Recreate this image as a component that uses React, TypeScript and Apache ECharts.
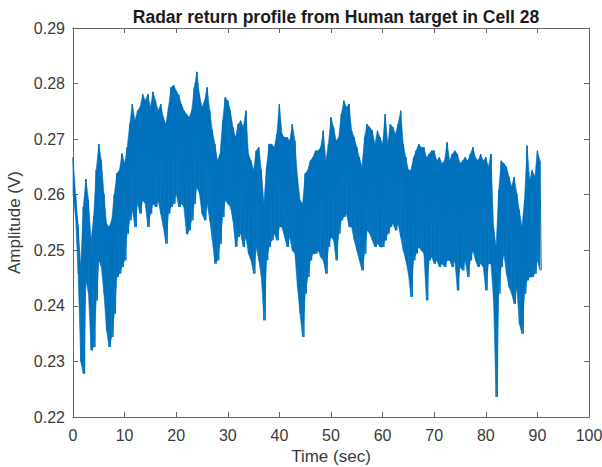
import React, { useEffect, useRef } from "react";
import * as echarts from "echarts";

const TITLE = "Radar return profile from Human target in Cell 28";
const X_NAME = "Time (sec)";
const Y_NAME = "Amplitude (V)";
const X_MIN = 0;
const X_MAX = 100;
const X_STEP = 10;
const Y_MIN = 0.22;
const Y_MAX = 0.29;
const Y_STEP = 0.01;
// sampling step (sec) of the envelope
const SAMPLE_STEP = 0.5;

// upper envelope of the signal, one value per 0.5 s starting at t = 0
const upper = [
  0.2667, 0.26, 0.2542, 0.247, 0.2578, 0.2628, 0.259, 0.2518, 0.256, 0.2644,
  0.2691, 0.2661, 0.2601, 0.2548, 0.2542, 0.2554, 0.26, 0.2638, 0.2644, 0.2674,
  0.2656, 0.2685, 0.2727, 0.2763, 0.2733, 0.2751, 0.2757, 0.2781, 0.2769, 0.2781,
  0.2757, 0.2785, 0.2769, 0.2751, 0.2763, 0.2739, 0.2727, 0.2757, 0.2793, 0.2797,
  0.2787, 0.2779, 0.2763, 0.2751, 0.2745, 0.2739, 0.2751, 0.2793, 0.2821, 0.2781,
  0.2757, 0.2769, 0.2793, 0.2751, 0.2715, 0.2691, 0.2661, 0.2673, 0.2733, 0.2775,
  0.2769, 0.2751, 0.2721, 0.2703, 0.2727, 0.2733, 0.2721, 0.2751, 0.2673, 0.2661,
  0.2644, 0.2679, 0.2685, 0.2644, 0.2584, 0.265, 0.2691, 0.2691, 0.2685, 0.2709,
  0.2763, 0.2709, 0.2703, 0.2703, 0.2697, 0.2727, 0.2697, 0.2632, 0.259, 0.2584,
  0.2638, 0.2644, 0.2661, 0.2667, 0.2679, 0.2679, 0.2685, 0.2715, 0.2661, 0.2691,
  0.2739, 0.2721, 0.2697, 0.2703, 0.2745, 0.2769, 0.2757, 0.2763, 0.2715, 0.2703,
  0.2685, 0.2667, 0.265, 0.2703, 0.2727, 0.2721, 0.2715, 0.2691, 0.2715, 0.2703,
  0.2691, 0.2745, 0.2691, 0.2727, 0.2721, 0.2709, 0.2727, 0.2751, 0.2691, 0.2667,
  0.2644, 0.2644, 0.2667, 0.2679, 0.2691, 0.2685, 0.2685, 0.2667, 0.2673, 0.2679,
  0.2679, 0.2661, 0.2667, 0.2656, 0.2661, 0.2694, 0.2661, 0.2673, 0.2679, 0.2673,
  0.2656, 0.2661, 0.2667, 0.2661, 0.2673, 0.2685, 0.2667, 0.2661, 0.2673, 0.2661,
  0.2667, 0.265, 0.2673, 0.2542, 0.2506, 0.2608, 0.2661, 0.2656, 0.265, 0.2632,
  0.2614, 0.2632, 0.2602, 0.2572, 0.2542, 0.259, 0.2688, 0.2626, 0.2644, 0.2632,
  0.2679, 0.2661,
];

// lower envelope of the signal, one value per 0.5 s starting at t = 0
const lower = [
  0.26, 0.256, 0.2458, 0.23, 0.2278, 0.2446, 0.2422, 0.232, 0.2326, 0.241,
  0.2482, 0.247, 0.2422, 0.2356, 0.2326, 0.2344, 0.2386, 0.2452, 0.2458, 0.247,
  0.2482, 0.253, 0.2554, 0.2572, 0.2542, 0.2584, 0.2566, 0.259, 0.2584, 0.2542,
  0.2566, 0.2584, 0.2578, 0.259, 0.2566, 0.2542, 0.2512, 0.2566, 0.2578, 0.2584,
  0.2602, 0.2578, 0.2584, 0.2578, 0.2529, 0.2536, 0.2554, 0.2584, 0.2614, 0.2602,
  0.2566, 0.2554, 0.2584, 0.2554, 0.2518, 0.2476, 0.2482, 0.2512, 0.256, 0.259,
  0.2584, 0.2578, 0.2554, 0.2506, 0.2524, 0.253, 0.2506, 0.2524, 0.2494, 0.2482,
  0.2458, 0.2506, 0.2482, 0.2452, 0.2374, 0.2482, 0.2506, 0.2518, 0.253, 0.2518,
  0.2542, 0.2542, 0.2524, 0.2506, 0.2524, 0.25, 0.2494, 0.2434, 0.2386, 0.2344,
  0.2422, 0.2452, 0.2482, 0.2494, 0.2494, 0.25, 0.2488, 0.2482, 0.2458, 0.2506,
  0.2524, 0.2518, 0.2482, 0.253, 0.2554, 0.256, 0.2566, 0.2542, 0.2542, 0.2518,
  0.25, 0.2482, 0.2464, 0.2494, 0.2536, 0.253, 0.2518, 0.2506, 0.2512, 0.2506,
  0.2506, 0.2518, 0.253, 0.2542, 0.2548, 0.2536, 0.2548, 0.2524, 0.25, 0.2482,
  0.2458, 0.2416, 0.2482, 0.2494, 0.2506, 0.25, 0.2494, 0.241, 0.2482, 0.2488,
  0.2476, 0.2482, 0.247, 0.2476, 0.247, 0.2482, 0.2482, 0.247, 0.2482, 0.2428,
  0.247, 0.2464, 0.2482, 0.2452, 0.2482, 0.25, 0.2482, 0.247, 0.2476, 0.247,
  0.2428, 0.2476, 0.2476, 0.241, 0.2236, 0.2422, 0.247, 0.2494, 0.2458, 0.2434,
  0.2422, 0.2404, 0.2434, 0.2368, 0.235, 0.2422, 0.2446, 0.2452, 0.2452, 0.2458,
  0.2482, 0.2464,
];

const FONT = "'Liberation Sans', Arial, sans-serif";
const LINE_COLOR = "#0072BD";
const AXIS_COLOR = "#666666";
const TEXT_COLOR = "#3a3a3a";

export default function App() {
  const ref = useRef<HTMLDivElement>(null);

  useEffect(() => {
    if (!ref.current) return;
    const chart = echarts.init(ref.current, undefined, { renderer: "svg" });

    // signal drawn as a dense trace swinging between the read envelopes
    const trace: [number, number][] = [];
    const band: [number, number, number][] = [];
    for (let i = 0; i < upper.length; i++) {
      const t = i * SAMPLE_STEP;
      trace.push([t, upper[i]]);
      trace.push([t + SAMPLE_STEP / 2, lower[i]]);
      band.push([t, lower[i], upper[i]]);
    }

    const baseX = {
      type: "value" as const,
      min: X_MIN,
      max: X_MAX,
      interval: X_STEP,
      splitLine: { show: false },
      axisLine: { show: true, lineStyle: { color: AXIS_COLOR, width: 1 } },
      axisTick: { show: true, inside: true, length: 5, lineStyle: { color: AXIS_COLOR } },
    };
    const baseY = {
      type: "value" as const,
      min: Y_MIN,
      max: Y_MAX,
      interval: Y_STEP,
      splitLine: { show: false },
      axisLine: { show: true, onZero: false, lineStyle: { color: AXIS_COLOR, width: 1 } },
      axisTick: { show: true, inside: true, length: 5, lineStyle: { color: AXIS_COLOR } },
    };

    chart.setOption({
      animation: false,
      backgroundColor: "#ffffff",
      title: {
        text: TITLE,
        left: 331,
        top: 3,
        textAlign: "center",
        textStyle: { fontFamily: FONT, fontSize: 17.5, fontWeight: "bold", color: "#1a1a1a" },
      },
      grid: {
        left: 73,
        right: 13,
        top: 28,
        bottom: 50,
        containLabel: false,
        outerBoundsMode: "none",
      },
      xAxis: [
        {
          ...baseX,
          position: "bottom",
          name: X_NAME,
          nameLocation: "middle",
          nameGap: 27,
          nameTextStyle: { fontFamily: FONT, fontSize: 17, color: TEXT_COLOR },
          axisLabel: { fontFamily: FONT, fontSize: 16, color: TEXT_COLOR, margin: 10 },
        },
        {
          ...baseX,
          position: "top",
          axisLabel: { show: false },
        },
      ],
      yAxis: [
        {
          ...baseY,
          position: "left",
          name: Y_NAME,
          nameLocation: "middle",
          nameGap: 37,
          nameTextStyle: { fontFamily: FONT, fontSize: 17, color: TEXT_COLOR },
          axisLabel: {
            fontFamily: FONT,
            fontSize: 16,
            color: TEXT_COLOR,
            margin: 8,
            formatter: (v: number) => v.toFixed(2),
          },
        },
        {
          ...baseY,
          position: "right",
          axisLabel: { show: false },
        },
      ],
      series: [
        {
          type: "custom",
          name: "band",
          data: band,
          silent: true,
          encode: { x: 0, y: [1, 2] },
          renderItem: (params: any, api: any) => {
            const i = params.dataIndex;
            if (i >= band.length - 1) return null;
            const a = band[i];
            const b = band[i + 1];
            const p1 = api.coord([a[0], a[1]]);
            const p2 = api.coord([a[0], a[2]]);
            const p3 = api.coord([b[0], b[2]]);
            const p4 = api.coord([b[0], b[1]]);
            return {
              type: "polygon",
              shape: { points: [p1, p2, p3, p4] },
              style: { fill: LINE_COLOR, stroke: LINE_COLOR, lineWidth: 0.6 },
            };
          },
        },
        {
          type: "line",
          name: "signal",
          data: trace,
          showSymbol: false,
          symbol: "none",
          lineStyle: { color: LINE_COLOR, width: 1 },
          itemStyle: { color: LINE_COLOR },
        },
      ],
    });

    return () => chart.dispose();
  }, []);

  return (
    <div
      ref={ref}
      style={{ position: "absolute", left: 0, top: 0, width: 602, height: 467 }}
    />
  );
}
